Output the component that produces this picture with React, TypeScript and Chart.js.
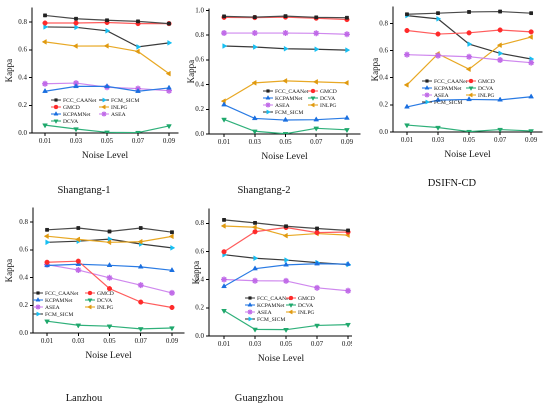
import { useEffect, useRef } from 'react';
import { Chart, registerables } from 'chart.js';
import { drawPoint } from 'chart.js/helpers';

Chart.register(...registerables);

const SERIF = "'Liberation Serif', 'Times New Roman', serif";

// x axis: noise levels
const noiseLevels = [0.01, 0.03, 0.05, 0.07, 0.09];
const noiseTickLabels = ['0.01', '0.03', '0.05', '0.07', '0.09'];
// y axis: kappa
const kappaTicks = [0, 0.2, 0.4, 0.6, 0.8];
const kappaTickLabels = ['0.0', '0.2', '0.4', '0.6', '0.8'];
const kappaTicksTo1 = [0, 0.2, 0.4, 0.6, 0.8, 1.0];
const kappaTickLabelsTo1 = ['0.0', '0.2', '0.4', '0.6', '0.8', '1.0'];

const methods = ['FCC_CAANet', 'GMCD', 'KCPAMNet', 'DCVA', 'ASEA', 'INLPG', 'FCM_SICM'];

// Shangtang-1
const st1FCC = [0.848, 0.824, 0.813, 0.805, 0.789];
const st1GMCD = [0.793, 0.793, 0.797, 0.789, 0.789];
const st1KCP = [0.301, 0.336, 0.336, 0.301, 0.325];
const st1DCVA = [0.057, 0.029, 0.005, 0.003, 0.051];
const st1ASEA = [0.355, 0.36, 0.33, 0.32, 0.305];
const st1INLPG = [0.657, 0.627, 0.628, 0.588, 0.428];
const st1FCM = [0.765, 0.762, 0.737, 0.621, 0.65];

// Shangtang-2
const st2FCC = [0.952, 0.946, 0.954, 0.944, 0.941];
const st2GMCD = [0.944, 0.942, 0.946, 0.937, 0.926];
const st2KCP = [0.237, 0.126, 0.113, 0.116, 0.129];
const st2DCVA = [0.118, 0.022, 0.002, 0.046, 0.034];
const st2ASEA = [0.817, 0.817, 0.817, 0.815, 0.807];
const st2INLPG = [0.266, 0.414, 0.43, 0.422, 0.414];
const st2FCM = [0.712, 0.704, 0.69, 0.686, 0.679];

// DSIFN-CD
const dsFCC = [0.868, 0.876, 0.885, 0.888, 0.876];
const dsGMCD = [0.748, 0.722, 0.731, 0.752, 0.738];
const dsKCP = [0.185, 0.235, 0.24, 0.237, 0.26];
const dsDCVA = [0.051, 0.033, 0.003, 0.018, 0.008];
const dsASEA = [0.57, 0.563, 0.555, 0.531, 0.511];
const dsINLPG = [0.347, 0.576, 0.463, 0.64, 0.7];
const dsFCM = [0.858, 0.834, 0.648, 0.58, 0.538];

// Lanzhou
const lzFCC = [0.744, 0.757, 0.732, 0.757, 0.727];
const lzGMCD = [0.51, 0.518, 0.32, 0.223, 0.184];
const lzKCP = [0.487, 0.496, 0.488, 0.477, 0.452];
const lzDCVA = [0.085, 0.056, 0.049, 0.03, 0.036];
const lzASEA = [0.493, 0.454, 0.398, 0.345, 0.289];
const lzINLPG = [0.698, 0.675, 0.654, 0.658, 0.697];
const lzFCM = [0.654, 0.662, 0.677, 0.642, 0.614];

// Guangzhou
const gzFCC = [0.824, 0.803, 0.779, 0.763, 0.749];
const gzGMCD = [0.598, 0.74, 0.77, 0.734, 0.738];
const gzKCP = [0.352, 0.478, 0.505, 0.513, 0.51];
const gzDCVA = [0.18, 0.047, 0.045, 0.075, 0.081];
const gzASEA = [0.401, 0.392, 0.391, 0.342, 0.321];
const gzINLPG = [0.781, 0.772, 0.712, 0.727, 0.716];
const gzFCM = [0.577, 0.552, 0.539, 0.521, 0.507];

const methodStyle: Record<string, { line: string; marker: string; shape: any; rot: number; r: number }> = {
  FCC_CAANet: { line: '#4a4a4a', marker: '#222222', shape: 'rect', rot: 0, r: 2.3 },
  GMCD: { line: '#ff5c5c', marker: '#ff2a2a', shape: 'circle', rot: 0, r: 2.3 },
  KCPAMNet: { line: '#2a7be4', marker: '#1a6fe0', shape: 'triangle', rot: 0, r: 2.8 },
  DCVA: { line: '#2fb07a', marker: '#1fa86c', shape: 'triangle', rot: 180, r: 2.8 },
  ASEA: { line: '#cf88ee', marker: '#c06ae8', shape: 'star', rot: 0, r: 3 },
  INLPG: { line: '#e8a824', marker: '#e09a10', shape: 'triangle', rot: 270, r: 2.8 },
  FCM_SICM: { line: '#3a3a3a', marker: '#17bff2', shape: 'triangle', rot: 90, r: 2.8 },
};

type PanelDef = {
  title: string;
  values: number[][]; // in the order of `methods`
  legendRows: string[][];
  clip: { left: number; width: number };
  plot: { l: number; t: number; r: number; b: number };
  xMin: number;
  xMax: number;
  yMax: number;
  yTicks: number[];
  yLabels: string[];
  legend: { x1: number; x2: number; y0: number; dy: number };
  caption: { x: number; y: number };
};

const orderA = [
  ['FCC_CAANet', 'FCM_SICM'],
  ['GMCD', 'INLPG'],
  ['KCPAMNet', 'ASEA'],
  ['DCVA', ''],
];
const orderB = [
  ['FCC_CAANet', 'GMCD'],
  ['KCPAMNet', 'DCVA'],
  ['ASEA', 'INLPG'],
  ['FCM_SICM', ''],
];

const panels: PanelDef[] = [
  {
    title: 'Shangtang-1',
    values: [st1FCC, st1GMCD, st1KCP, st1DCVA, st1ASEA, st1INLPG, st1FCM],
    legendRows: orderA,
    clip: { left: 0, width: 180 },
    plot: { l: 32, t: 8, r: 178, b: 133 },
    xMin: 0.0016, xMax: 0.0958, yMax: 0.9,
    yTicks: kappaTicks, yLabels: kappaTickLabels,
    legend: { x1: 63, x2: 111, y0: 100, dy: 7 },
    caption: { x: 84, y: 190 },
  },
  {
    title: 'Shangtang-2',
    values: [st2FCC, st2GMCD, st2KCP, st2DCVA, st2ASEA, st2INLPG, st2FCM],
    legendRows: orderB,
    clip: { left: 182, width: 182 },
    plot: { l: 209, t: 9, r: 360, b: 134 },
    xMin: 0.0002, xMax: 0.0985, yMax: 1.01,
    yTicks: kappaTicksTo1, yLabels: kappaTickLabelsTo1,
    legend: { x1: 275, x2: 320, y0: 91, dy: 7 },
    caption: { x: 264, y: 190 },
  },
  {
    title: 'DSIFN-CD',
    values: [dsFCC, dsGMCD, dsKCP, dsDCVA, dsASEA, dsINLPG, dsFCM],
    legendRows: orderB,
    clip: { left: 366, width: 184 },
    plot: { l: 393, t: 7, r: 542, b: 132 },
    xMin: 0.001, xMax: 0.097, yMax: 0.92,
    yTicks: kappaTicks, yLabels: kappaTickLabels,
    legend: { x1: 434, x2: 478, y0: 81, dy: 7 },
    caption: { x: 452, y: 183 },
  },
  {
    title: 'Lanzhou',
    values: [lzFCC, lzGMCD, lzKCP, lzDCVA, lzASEA, lzINLPG, lzFCM],
    legendRows: orderB,
    clip: { left: 0, width: 185 },
    plot: { l: 33, t: 208, r: 184, b: 333 },
    xMin: 0.001, xMax: 0.0977, yMax: 0.9,
    yTicks: kappaTicks, yLabels: kappaTickLabels,
    legend: { x1: 45, x2: 97, y0: 293, dy: 7 },
    caption: { x: 84, y: 398 },
  },
  {
    title: 'Guangzhou',
    values: [gzFCC, gzGMCD, gzKCP, gzDCVA, gzASEA, gzINLPG, gzFCM],
    legendRows: orderB,
    clip: { left: 187, width: 165 },
    plot: { l: 209, t: 209, r: 353, b: 336 },
    xMin: 0.0003, xMax: 0.0932, yMax: 0.9,
    yTicks: kappaTicks, yLabels: kappaTickLabels,
    legend: { x1: 257, x2: 298, y0: 298, dy: 7 },
    caption: { x: 259, y: 398 },
  },
];

const X_AXIS_H = 30;
const TOP_PAD = 6;
const RIGHT_PAD = 20;

function PanelChart({ p }: { p: PanelDef }) {
  const canvasRef = useRef<HTMLCanvasElement>(null);
  const yw = p.plot.l - p.clip.left;
  const canvasTop = Math.floor(p.plot.t) - TOP_PAD;
  const cw = p.plot.r - p.clip.left + RIGHT_PAD;
  const ch = p.plot.b - canvasTop + X_AXIS_H;

  useEffect(() => {
    if (!canvasRef.current) return;

    const datasets = methods.map((m, i) => {
      const s = methodStyle[m];
      return {
        label: m,
        data: noiseLevels.map((x, j) => ({ x, y: p.values[i][j] })),
        borderColor: s.line,
        borderWidth: 1.2,
        pointStyle: s.shape,
        pointRotation: s.rot,
        pointRadius: s.r,
        pointBackgroundColor: s.marker,
        pointBorderColor: s.marker,
        pointBorderWidth: s.shape === 'star' ? 1.4 : 0.5,
        tension: 0,
        fill: false,
      };
    });

    // legend drawn inside the plot area, two columns like the original figure
    const legendPlugin = {
      id: 'insideLegend',
      afterDraw(chart: Chart) {
        const ctx = chart.ctx;
        ctx.save();
        ctx.font = `5.6px ${SERIF}`;
        ctx.textBaseline = 'middle';
        ctx.textAlign = 'left';
        p.legendRows.forEach((row, ri) => {
          row.forEach((m, ci) => {
            if (!m) return;
            const s = methodStyle[m];
            const tx = (ci === 0 ? p.legend.x1 : p.legend.x2) - p.clip.left;
            const ty = p.legend.y0 + ri * p.legend.dy - canvasTop;
            ctx.strokeStyle = s.line;
            ctx.lineWidth = 1.1;
            ctx.beginPath();
            ctx.moveTo(tx - 12, ty);
            ctx.lineTo(tx - 2, ty);
            ctx.stroke();
            ctx.fillStyle = s.marker;
            ctx.strokeStyle = s.marker;
            ctx.lineWidth = s.shape === 'star' ? 1.2 : 0.5;
            drawPoint(ctx, { pointStyle: s.shape, rotation: s.rot, radius: s.r * 0.85, borderWidth: ctx.lineWidth }, tx - 7, ty);
            ctx.fillStyle = '#111';
            ctx.fillText(m, tx, ty + 0.5);
          });
        });
        ctx.restore();
      },
    };

    const chart = new Chart(canvasRef.current, {
      type: 'line',
      data: { datasets },
      plugins: [legendPlugin],
      options: {
        animation: false,
        responsive: false,
        devicePixelRatio: 2,
        layout: { padding: { left: 0, top: TOP_PAD, right: RIGHT_PAD, bottom: 0 } },
        plugins: { legend: { display: false }, tooltip: { enabled: false } },
        scales: {
          x: {
            type: 'linear',
            min: p.xMin,
            max: p.xMax,
            afterFit: (s: any) => { s.height = X_AXIS_H; },
            afterBuildTicks: (s: any) => { s.ticks = noiseLevels.map((v) => ({ value: v })); },
            ticks: {
              autoSkip: false,
              maxRotation: 0,
              padding: 1,
              color: '#111',
              font: { family: SERIF, size: 7 },
              callback: (_v: any, i: number) => noiseTickLabels[i],
            },
            grid: { drawOnChartArea: false, drawTicks: true, tickLength: 3, color: '#000' },
            border: { display: true, color: '#000', width: 1 },
            title: {
              display: true,
              text: 'Noise Level',
              color: '#111',
              font: { family: SERIF, size: 9.5 },
              padding: { top: 0, bottom: 2 },
            },
          },
          y: {
            type: 'linear',
            min: 0,
            max: p.yMax,
            afterFit: (s: any) => { s.width = yw; },
            afterBuildTicks: (s: any) => { s.ticks = p.yTicks.map((v) => ({ value: v })); },
            ticks: {
              padding: 2,
              color: '#111',
              font: { family: SERIF, size: 7 },
              callback: (_v: any, i: number) => p.yLabels[i],
            },
            grid: { drawOnChartArea: false, drawTicks: true, tickLength: 3, color: '#000' },
            border: { display: true, color: '#000', width: 1 },
            title: {
              display: true,
              text: 'Kappa',
              color: '#111',
              font: { family: SERIF, size: 9 },
              padding: { top: 4, bottom: 0 },
            },
          },
        },
      },
    });

    return () => chart.destroy();
  }, [p]);

  return (
    <div
      style={{
        position: 'absolute',
        left: p.clip.left,
        top: 0,
        width: p.clip.width,
        height: 408,
        overflow: 'hidden',
      }}
    >
      <canvas
        ref={canvasRef}
        width={cw}
        height={ch}
        style={{ position: 'absolute', left: 0, top: canvasTop, width: cw, height: ch }}
      />
    </div>
  );
}

export default function App() {
  return (
    <div
      style={{
        position: 'absolute',
        left: 0,
        top: 0,
        width: 550,
        height: 408,
        background: '#fff',
        overflow: 'hidden',
        fontFamily: SERIF,
      }}
    >
      {panels.map((p) => (
        <PanelChart key={p.title} p={p} />
      ))}
      {panels.map((p) => (
        <div
          key={p.title + '-cap'}
          style={{
            position: 'absolute',
            left: p.caption.x - 60,
            top: p.caption.y - 7,
            width: 120,
            textAlign: 'center',
            fontSize: 10.5,
            lineHeight: '14px',
            color: '#111',
          }}
        >
          {p.title}
        </div>
      ))}
    </div>
  );
}
